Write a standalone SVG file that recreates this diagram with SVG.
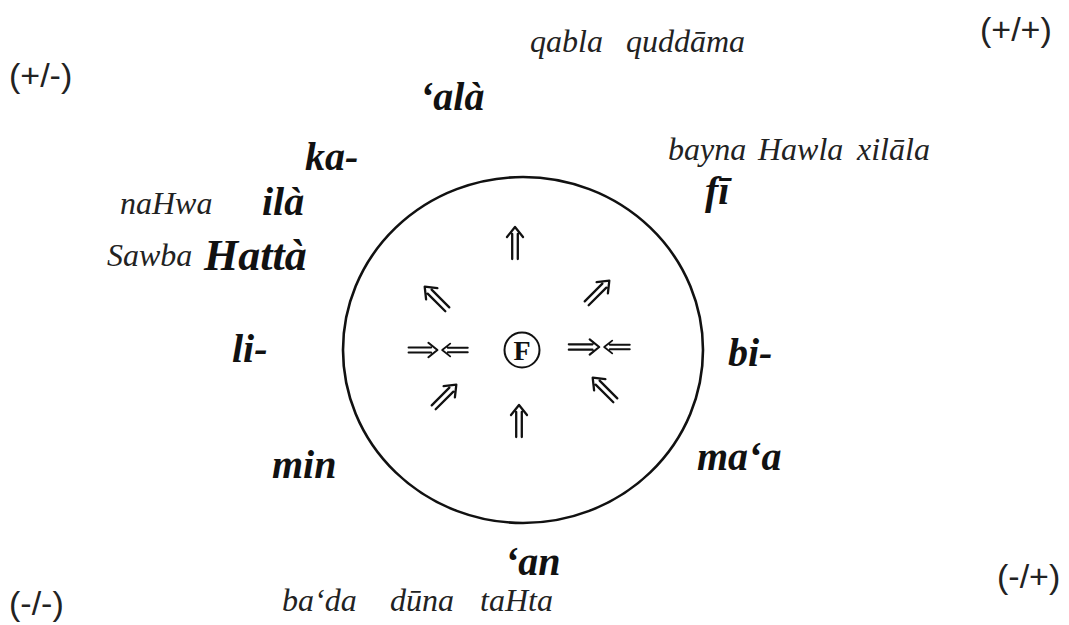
<svg xmlns="http://www.w3.org/2000/svg" width="1069" height="625" viewBox="0 0 1069 625">
<style>
.bi{font-family:"Liberation Serif",serif;font-style:italic;font-weight:bold;font-size:40px;fill:#111}
.it{font-family:"Liberation Serif",serif;font-style:italic;font-size:32px;fill:#222}
.cn{font-family:"Liberation Sans",sans-serif;font-size:34px;fill:#222}
.ar{fill:none;stroke:#111;stroke-width:2.3;stroke-linecap:round;stroke-linejoin:round}
</style>
<defs>
<g id="da"><path class="ar" d="M-2.8,16 V-9 M2.8,16 V-9 M-8,-6 L0,-16 L8,-6"/></g>
</defs>
<rect width="1069" height="625" fill="#fff"/>
<g id="connectors">
<ellipse id="circle" cx="523" cy="350" rx="180" ry="173" fill="none" stroke="#111" stroke-width="2.6"/>
<use href="#da" transform="translate(515,243)"/>
<use href="#da" transform="translate(519,421)"/>
<use href="#da" transform="translate(436,298) rotate(-45)"/>
<use href="#da" transform="translate(598,292) rotate(45)"/>
<use href="#da" transform="translate(445,396) rotate(45)"/>
<use href="#da" transform="translate(604,389) rotate(-45)"/>
<use href="#da" transform="translate(423,350) rotate(90) scale(0.9)"/>
<use href="#da" transform="translate(455,350) rotate(-90) scale(0.8)"/>
<use href="#da" transform="translate(584,347) rotate(90) scale(0.95)"/>
<use href="#da" transform="translate(617,347) rotate(-90) scale(0.8)"/>
</g>
<g id="nodeF">
<circle cx="522" cy="350" r="17.5" fill="none" stroke="#111" stroke-width="2"/>
<text x="522" y="360" text-anchor="middle" style="font-family:'Liberation Serif',serif;font-weight:bold;font-size:28px;fill:#111">F</text>
</g>
<g id="corners">
<text class="cn" x="9" y="87">(+/-)</text>
<text class="cn" x="980" y="41">(+/+)</text>
<text class="cn" x="9" y="615">(-/-)</text>
<text class="cn" x="997" y="588">(-/+)</text>
</g>
<g id="top-words">
<text class="it" x="530" y="52">qabla</text>
<text class="it" x="626" y="52">quddāma</text>
<text class="it" x="668" y="160">bayna</text>
<text class="it" x="758" y="160">Hawla</text>
<text class="it" x="857" y="160">xilāla</text>
</g>
<g id="left-words">
<text class="it" x="120" y="214">naHwa</text>
<text class="it" x="107" y="266">Sawba</text>
</g>
<g id="bottom-words">
<text class="it" x="282" y="611">ba‘da</text>
<text class="it" x="390" y="611">dūna</text>
<text class="it" x="480" y="611">taHta</text>
</g>
<g id="particles">
<text class="bi" x="420" y="110">‘alà</text>
<text class="bi" x="305" y="170">ka-</text>
<text class="bi" x="262" y="215">ilà</text>
<text class="bi" x="204" y="270" style="font-size:44px">Hattà</text>
<text class="bi" x="705" y="204">fī</text>
<text class="bi" x="232" y="362">li-</text>
<text class="bi" x="728" y="366">bi-</text>
<text class="bi" x="272" y="478">min</text>
<text class="bi" x="697" y="470">ma‘a</text>
<text class="bi" x="505" y="575">‘an</text>
</g>
</svg>
